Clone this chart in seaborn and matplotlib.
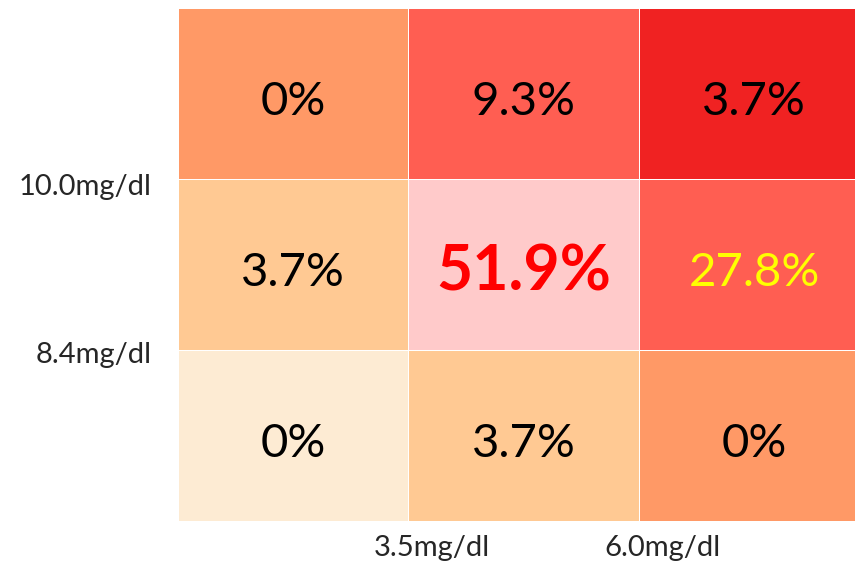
import numpy as np
import matplotlib
matplotlib.use("Agg")
import matplotlib.pyplot as plt
from matplotlib.colors import ListedColormap
import seaborn as sns

# percentages in each cell (top row first)
row_top = ["0%", "9.3%", "3.7%"]
row_mid = ["3.7%", "51.9%", "27.8%"]
row_bot = ["0%", "3.7%", "0%"]

# colour level of each cell (0 = palest, 5 = darkest red)
level_top = [3, 4, 5]
level_mid = [1, 2, 4]
level_bot = [0, 1, 3]

cell_colors = ["#FDEBD3", "#FFC993", "#FFCACA", "#FF9966", "#FF5E52", "#F02222"]

y_labels = ["10.0mg/dl", "8.4mg/dl"]
x_labels = ["3.5mg/dl", "6.0mg/dl"]

sns.set_style("white")
plt.rcParams['font.family'] = ['Lato', 'DejaVu Sans']

levels = np.array([level_top, level_mid, level_bot])
annots = np.array([row_top, row_mid, row_bot])

fig = plt.figure(figsize=(8.55, 5.71), dpi=100)
# right column runs a little past the edge of the picture, like the original
ax = fig.add_axes([0.208, 0.088, 0.809, 0.898])

sns.heatmap(levels, annot=annots, fmt="", cmap=ListedColormap(cell_colors),
            vmin=-0.5, vmax=5.5, cbar=False, linewidths=0.6, linecolor="white",
            annot_kws={"fontsize": 34, "color": "black"}, ax=ax)

# highlight the middle cell and the one to its right, nudge text down a bit
for t in ax.texts:
    x, y = t.get_position()
    t.set_position((x, y + 0.05))
    if t.get_text() == "51.9%":
        t.set_color("#FF0000")
        t.set_fontweight("bold")
        t.set_fontsize(45)
    elif t.get_text() == "27.8%":
        t.set_color("#FFFF00")

# labels sit on the cell borders (a bit offset like the original)
ax.set_yticks([1.05, 2.03])
ax.set_yticklabels(y_labels, rotation=0, fontsize=21)
ax.set_xticks([1.1, 2.1])
ax.set_xticklabels(x_labels, rotation=0, fontsize=21)
ax.tick_params(length=0, pad=10)
ax.tick_params(axis="y", pad=19)

fig.savefig("out.png", dpi=100)
